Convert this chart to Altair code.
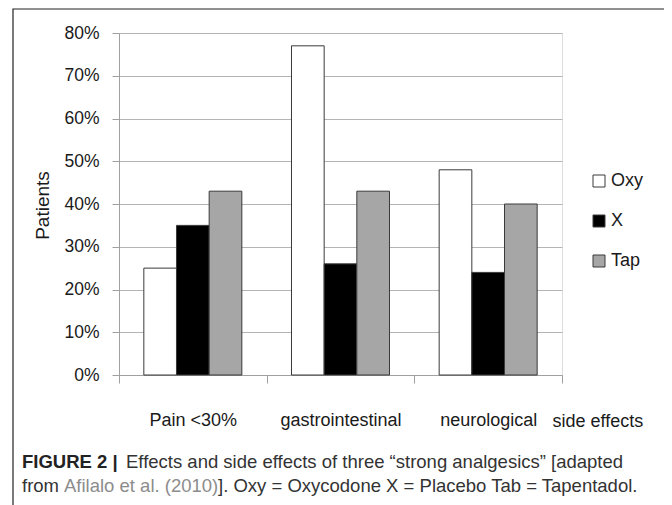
import altair as alt
import pandas as pd

categories = ["Pain <30%", "gastrointestinal", "neurological"]
series = ["Oxy", "X", "Tap"]
oxy_vals = [0.25, 0.77, 0.48]
x_vals = [0.35, 0.26, 0.24]
tap_vals = [0.43, 0.43, 0.40]
y_ticks = [0.0, 0.1, 0.2, 0.3, 0.4, 0.5, 0.6, 0.7, 0.8]
series_colors = ["#ffffff", "#000000", "#a6a6a6"]

caption_bold = ["FIGURE 2 |"]
caption_line1 = ["Effects and side effects of three \u201cstrong analgesics\u201d [adapted"]
caption_from = ["from"]
caption_link = ["Afilalo et al. (2010)"]
caption_rest = ["]. Oxy = Oxycodone X = Placebo Tab = Tapentadol."]

rows = []
for i, c in enumerate(categories):
    for s, vals in zip(series, [oxy_vals, x_vals, tap_vals]):
        rows.append({"category": c, "series": s, "value": vals[i]})
df = pd.DataFrame(rows)

W, H = 443, 342
FONT = "Liberation Sans"

bars = alt.Chart(df).mark_bar(stroke="#3a3a3a", strokeWidth=1).encode(
    x=alt.X(
        "category:N", sort=categories,
        scale=alt.Scale(paddingInner=0, paddingOuter=0),
        axis=alt.Axis(
            title="side effects", labelAngle=0, tickBand="extent",
            tickSize=8, tickColor="#a0a0a0", domainColor="#a0a0a0",
            labelFontSize=18, labelColor="#1a1a1a", labelFont=FONT,
            labelPadding=28, grid=False,
            titleFontSize=18, titleFontWeight="normal", titleColor="#1a1a1a", titleFont=FONT,
            titleX=433, titleY=46, titleAlign="left", titleBaseline="middle",
        ),
    ),
    xOffset=alt.XOffset("series:N", sort=series,
                        scale=alt.Scale(paddingInner=0, paddingOuter=0.76)),
    y=alt.Y(
        "value:Q", scale=alt.Scale(domain=[0, 0.8], nice=False),
        axis=alt.Axis(
            format=".0%", values=y_ticks, title="Patients",
            tickSize=7, tickColor="#a0a0a0", domainColor="#a0a0a0",
            gridColor="#b4b4b4", grid=True,
            labelFontSize=17.5, labelColor="#1a1a1a", labelFont=FONT, labelPadding=13,
            titleFontSize=19, titleFontWeight="normal", titleColor="#1a1a1a", titleFont=FONT,
            titleX=-77, titleY=172, titleAngle=270, titleAlign="center", titleBaseline="middle",
        ),
    ),
    color=alt.Color(
        "series:N", sort=series,
        scale=alt.Scale(domain=series, range=series_colors),
        legend=alt.Legend(
            title=None, orient="none", legendX=471, legendY=139,
            symbolType="square", symbolSize=144, symbolStrokeColor="#3a3a3a",
            symbolStrokeWidth=1, symbolOpacity=1,
            labelFontSize=18, labelFont=FONT, labelColor="#1a1a1a",
            rowPadding=22, labelOffset=3,
        ),
    ),
)

frame = alt.Chart(pd.DataFrame({"f": [0]})).mark_rect(
    fill=None, stroke="#222222", strokeWidth=1.2
).encode(x=alt.value(-106), x2=alt.value(549), y=alt.value(-24), y2=alt.value(520))


def caption(texts, xpos, ypos, weight="normal", color="#333333"):
    return alt.Chart(pd.DataFrame({"t": texts})).mark_text(
        align="left", baseline="middle", font=FONT, fontSize=18.5,
        fontWeight=weight, color=color,
    ).encode(text="t:N", x=alt.value(xpos), y=alt.value(ypos))


cap = (
    caption(caption_bold, -97, 429, weight="bold", color="#222222")
    + caption(caption_line1, 7, 429)
    + caption(caption_from, -97, 453)
    + caption(caption_link, -55, 453, color="#8c8c8c")
    + caption(caption_rest, 99, 453)
)

chart = alt.layer(frame, bars, cap).properties(
    width=W, height=H,
    padding={"left": 111, "top": 25, "right": 102, "bottom": 130},
    autosize="none",
).configure_view(stroke=None).configure(background="white")

chart.save("out.html", embed_options={"renderer": "svg", "actions": False})
